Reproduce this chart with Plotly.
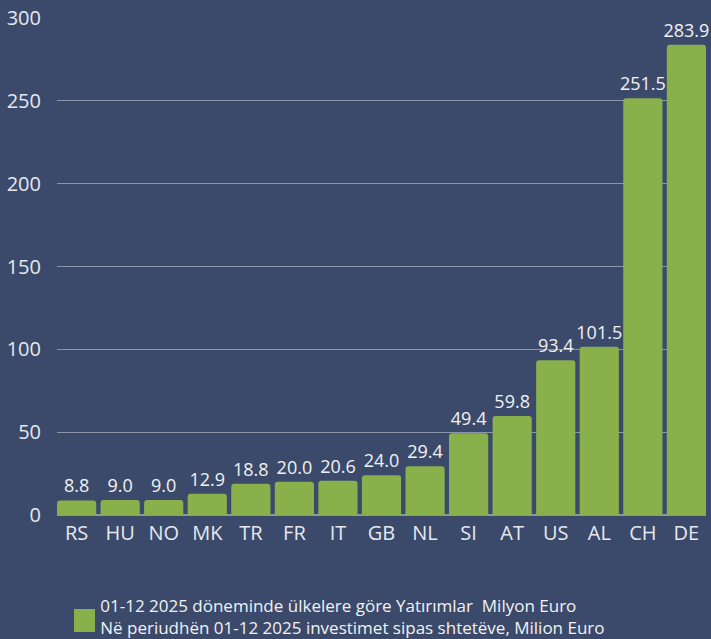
import plotly.graph_objects as go

countries = ["RS", "HU", "NO", "MK", "TR", "FR", "IT", "GB", "NL", "SI", "AT", "US", "AL", "CH", "DE"]
values = [8.8, 9.0, 9.0, 12.9, 18.8, 20.0, 20.6, 24.0, 29.4, 49.4, 59.8, 93.4, 101.5, 251.5, 283.9]
series_name = "01-12 2025 döneminde ülkelere göre Yatırımlar  Milyon Euro<br>Në periudhën 01-12 2025 investimet sipas shtetëve, Milion Euro"
y_ticks = [0, 50, 100, 150, 200, 250, 300]

BG = "#3b4a6b"
GREEN = "#88b04b"
TXT = "#e6e8ee"

fig = go.Figure()
fig.add_trace(go.Bar(
    x=countries,
    y=values,
    name=series_name,
    marker=dict(color=GREEN, cornerradius=3, line=dict(width=0)),
    text=[f"{v:.1f}" for v in values],
    textposition="outside",
    constraintext="none",
    textfont=dict(color="#f2f2f2", size=18, family="Open Sans"),
    cliponaxis=False,
    showlegend=True,
))

# tall legend swatch like the reference
fig.add_shape(type="rect", xref="paper", yref="paper",
              x0=0.0262, x1=0.0586, y0=-0.2354, y1=-0.1891,
              fillcolor=GREEN, line=dict(width=0), layer="above")

fig.update_layout(
    width=711, height=639,
    paper_bgcolor=BG, plot_bgcolor=BG,
    margin=dict(l=57, r=5, t=18, b=124, autoexpand=False),
    font=dict(family="Open Sans", color=TXT, size=20),
    bargap=0.1,
    xaxis=dict(showgrid=False, ticks="", tickfont=dict(size=20, color=TXT), ticklabelstandoff=4,
               range=[-0.45, len(countries) - 0.55]),
    yaxis=dict(range=[0, 300], tickvals=y_ticks, showgrid=True, gridcolor="#8c95aa",
               gridwidth=1, zeroline=True, zerolinecolor="#8c95aa",
               tickfont=dict(size=20, color=TXT), ticklabelstandoff=15),
    showlegend=True,
    legend=dict(orientation="h", x=0.005, xanchor="left", xref="paper",
                y=-0.2636, yanchor="bottom", yref="paper",
                font=dict(size=17, color="#f2f2f2", family="Open Sans"),
                bgcolor="rgba(0,0,0,0)"),
)

fig.write_html("out.html", config={"displayModeBar": False},
               post_script="document.body.style.margin='0';document.body.style.padding='0';document.body.style.overflow='hidden';")
